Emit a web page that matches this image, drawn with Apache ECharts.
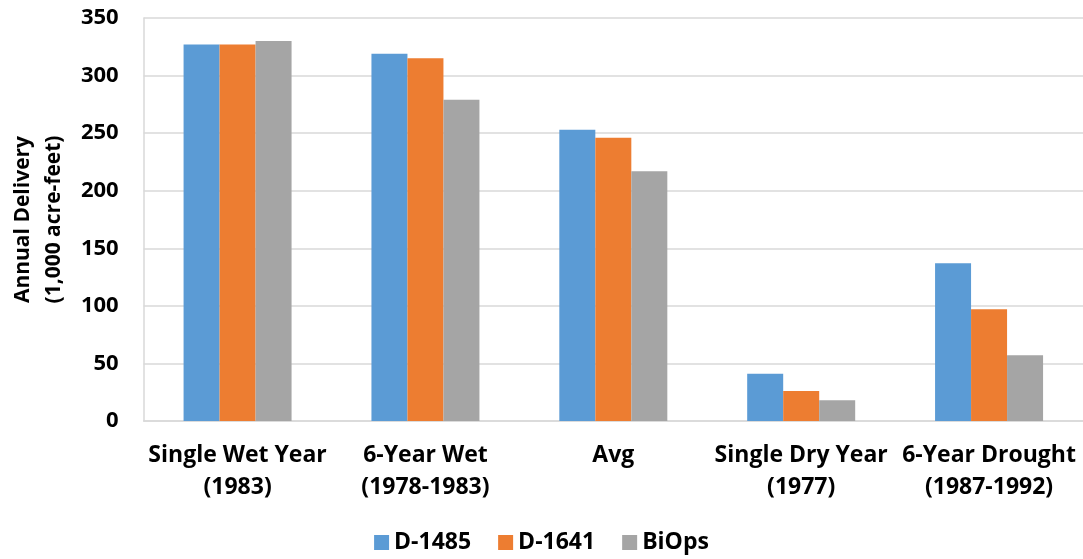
<!DOCTYPE html>
<html lang="en">
<head>
    <meta charset="UTF-8">
    <title>Annual Delivery</title>
    <script src="https://cdn.jsdelivr.net/npm/echarts@6/dist/echarts.min.js"></script>
    <style>
        html, body { margin: 0; padding: 0; background: #fff; }
        #main { width: 1083px; height: 559px; }
    </style>
</head>
<body>
<div id="main"></div>
<script type="text/javascript">
    var categories = ['Single Wet Year\n(1983)', '6-Year Wet\n(1978-1983)', 'Avg', 'Single Dry Year\n(1977)', '6-Year Drought\n(1987-1992)'];
    var d1485 = [327, 319, 253, 41, 137];
    var d1641 = [327, 315, 246, 26, 97];
    var biops = [330, 279, 217, 18, 57];
    var seriesNames = ['D-1485', 'D-1641', 'BiOps'];
    var colors = ['#5B9BD5', '#ED7D31', '#A5A5A5'];

    var font = '"Open Sans", sans-serif';
    var myChart = echarts.init(document.getElementById('main'));

    function bar(name, data, color) {
        return {
            name: name,
            type: 'bar',
            data: data,
            barWidth: 36,
            barGap: '0%',
            itemStyle: {color: color}
        };
    }

    var option = {
        animation: false,
        color: colors,
        grid: {left: 140, right: 0, top: 18, bottom: 138},
        legend: {
            bottom: 0,
            itemWidth: 15,
            itemHeight: 15,
            itemGap: 27,
            icon: 'rect',
            textStyle: {fontFamily: font, fontWeight: 'bold', fontSize: 23, color: '#000'},
            data: seriesNames
        },
        xAxis: {
            type: 'category',
            data: categories,
            axisTick: {show: false},
            axisLine: {lineStyle: {color: '#d9d9d9', width: 1.5}},
            axisLabel: {
                interval: 0,
                margin: 18,
                fontFamily: font,
                fontWeight: 'bold',
                fontSize: 23,
                lineHeight: 32,
                color: '#000'
            }
        },
        yAxis: {
            type: 'value',
            min: 0,
            max: 350,
            interval: 50,
            name: 'Annual Delivery\n(1,000 acre-feet)',
            nameLocation: 'middle',
            nameGap: 103,
            nameTextStyle: {
                fontFamily: font,
                fontWeight: 'bold',
                fontSize: 21,
                lineHeight: 31,
                color: '#000',
                verticalAlign: 'middle'
            },
            axisLine: {show: true, lineStyle: {color: '#d9d9d9', width: 1.5}},
            axisTick: {show: false},
            splitLine: {lineStyle: {color: '#d9d9d9', width: 1.5}},
            axisLabel: {
                margin: 25,
                fontFamily: font,
                fontWeight: 'bold',
                fontSize: 22,
                color: '#000'
            }
        },
        series: [
            bar(seriesNames[0], d1485, colors[0]),
            bar(seriesNames[1], d1641, colors[1]),
            bar(seriesNames[2], biops, colors[2])
        ]
    };

    myChart.setOption(option);
</script>
</body>
</html>
